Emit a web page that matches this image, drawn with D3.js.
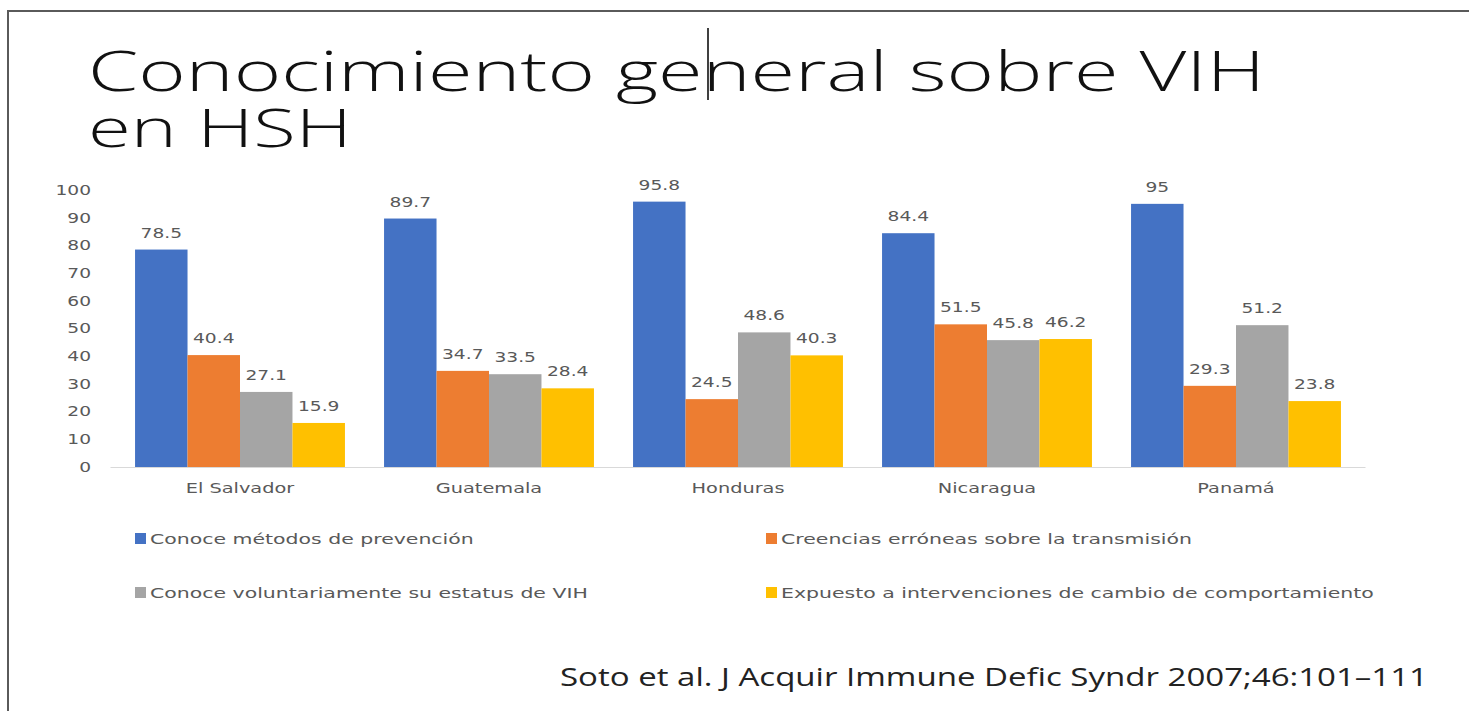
<!DOCTYPE html>
<html>
<head>
<meta charset="utf-8">
<script src="https://cdn.jsdelivr.net/npm/d3@7"></script>
<style>
  body { margin: 0; background: #fff; }
  svg { display: block; }
</style>
</head>
<body>
<div id="chart"></div>
<script>
const countries = ["El Salvador", "Guatemala", "Honduras", "Nicaragua", "Panamá"]
const seriesNames = [
  "Conoce métodos de prevención",
  "Creencias erróneas sobre la transmisión",
  "Conoce voluntariamente su estatus de VIH",
  "Expuesto a intervenciones de cambio de comportamiento",
]
const prevencion = [78.5, 89.7, 95.8, 84.4, 95]
const creencias = [40.4, 34.7, 24.5, 51.5, 29.3]
const estatus = [27.1, 33.5, 48.6, 45.8, 51.2]
const expuesto = [15.9, 28.4, 40.3, 46.2, 23.8]
const yTicks = [0, 10, 20, 30, 40, 50, 60, 70, 80, 90, 100]
const colors = ["#4472C4", "#ED7D31", "#A5A5A5", "#FFC000"]

function draw() {
  const dimensions = {
    width: 1469,
    height: 711,
    plotLeft: 115.5,
    plotRight: 1360.5,
    plotTop: 190,
    plotBottom: 467,
  }

  const series = [prevencion, creencias, estatus, expuesto]
  const dataset = countries.map((c, i) => ({
    country: c,
    values: series.map((s, k) => ({ key: k, value: s[i] })),
  }))

  // the whole slide looks stretched sideways, so small text gets widened
  const stretch = (sel, k) => {
    sel.each(function () {
      const len = this.getComputedTextLength()
      d3.select(this).attr("textLength", len * k).attr("lengthAdjust", "spacingAndGlyphs")
    })
  }
  const fitTo = (sel, w) => sel.attr("textLength", w).attr("lengthAdjust", "spacingAndGlyphs")

  const svg = d3
    .select("#chart")
    .append("svg")
    .attr("width", dimensions.width)
    .attr("height", dimensions.height)

  // slide frame (top + left edges only)
  svg.append("path")
    .attr("d", `M8,${dimensions.height} V11 H${dimensions.width}`)
    .attr("fill", "none")
    .attr("stroke", "#5a5a5a")
    .attr("stroke-width", 2)

  // title
  const title = svg.append("g")
    .style("font-family", "'Open Sans', sans-serif")
    .style("font-weight", 300)
    .attr("fill", "#111")
  title.append("text").attr("x", 88).attr("y", 91).style("font-size", "55px")
    .text("Conocimiento general sobre VIH").call(fitTo, 1177)
  title.append("text").attr("x", 88).attr("y", 147).style("font-size", "53px")
    .text("en HSH").call(fitTo, 264)
  // text cursor
  svg.append("line").attr("x1", 708).attr("x2", 708).attr("y1", 28).attr("y2", 100)
    .attr("stroke", "#000").attr("stroke-width", 1.5)

  const x0 = d3.scaleBand()
    .domain(countries)
    .range([dimensions.plotLeft, dimensions.plotRight])
    .paddingInner(0.157)
    .paddingOuter(0.0785)

  const x1 = d3.scaleBand()
    .domain(d3.range(series.length))
    .range([0, x0.bandwidth()])

  const yScale = d3.scaleLinear()
    .domain([0, 100])
    .range([dimensions.plotBottom, dimensions.plotTop])

  const ctr = svg.append("g")
    .style("font-family", "'DejaVu Sans', sans-serif")

  // y axis labels
  const yAxis = d3.axisLeft(yScale).tickValues(yTicks).tickSize(0).tickPadding(0)
  const yAxisGroup = ctr.append("g")
    .attr("transform", "translate(91,0)")
    .call(yAxis)
  yAxisGroup.select(".domain").remove()
  yAxisGroup.selectAll("text")
    .attr("fill", "#595959")
    .style("font-size", "13.5px")
    .style("font-family", "'DejaVu Sans', sans-serif")
    .call(stretch, 1.38)

  // bars
  const groups = ctr.selectAll(".group")
    .data(dataset)
    .join("g")
    .attr("class", "group")
    .attr("transform", d => `translate(${x0(d.country)},0)`)

  groups.selectAll("rect")
    .data(d => d.values)
    .join("rect")
    .attr("x", d => x1(d.key))
    .attr("y", d => yScale(d.value))
    .attr("width", x1.bandwidth())
    .attr("height", d => yScale(0) - yScale(d.value))
    .attr("fill", d => colors[d.key])

  groups.selectAll(".label")
    .data(d => d.values)
    .join("text")
    .attr("class", "label")
    .attr("x", d => x1(d.key) + x1.bandwidth() / 2)
    .attr("y", d => yScale(d.value) - 12)
    .attr("text-anchor", "middle")
    .attr("fill", "#595959")
    .style("font-size", "13.5px")
    .text(d => d.value)
    .call(stretch, 1.38)

  // baseline + category axis
  const xAxis = d3.axisBottom(x0).tickSize(0).tickPadding(16)
  const xAxisGroup = ctr.append("g")
    .attr("transform", `translate(0,${dimensions.plotBottom})`)
    .call(xAxis)
  xAxisGroup.select(".domain")
    .attr("stroke", "#d9d9d9")
    .attr("d", `M${dimensions.plotLeft - 5},0.5H${dimensions.plotRight + 5}`)
  xAxisGroup.selectAll("text")
    .attr("fill", "#595959")
    .style("font-size", "14px")
    .style("font-family", "'DejaVu Sans', sans-serif")
    .call(stretch, 1.38)

  // legend
  const legendPos = [[135, 539], [766, 539], [135, 593], [766, 593]]
  const legend = ctr.append("g")
    .selectAll("g")
    .data(seriesNames)
    .join("g")
    .attr("transform", (d, i) => `translate(${legendPos[i][0]},${legendPos[i][1]})`)
  legend.append("rect")
    .attr("x", 0).attr("y", -6).attr("width", 11).attr("height", 11)
    .attr("fill", (d, i) => colors[i])
  legend.append("text")
    .attr("x", 15)
    .attr("y", 5)
    .attr("fill", "#595959")
    .style("font-size", "14px")
    .text(d => d)
    .call(stretch, 1.46)

  // source
  svg.append("text")
    .attr("x", 560)
    .attr("y", 686)
    .attr("fill", "#222")
    .style("font-family", "'Open Sans', sans-serif")
    .style("font-size", "26px")
    .text("Soto et al. J Acquir Immune Defic Syndr 2007;46:101–111")
    .call(fitTo, 868)
}

draw()
</script>
</body>
</html>
